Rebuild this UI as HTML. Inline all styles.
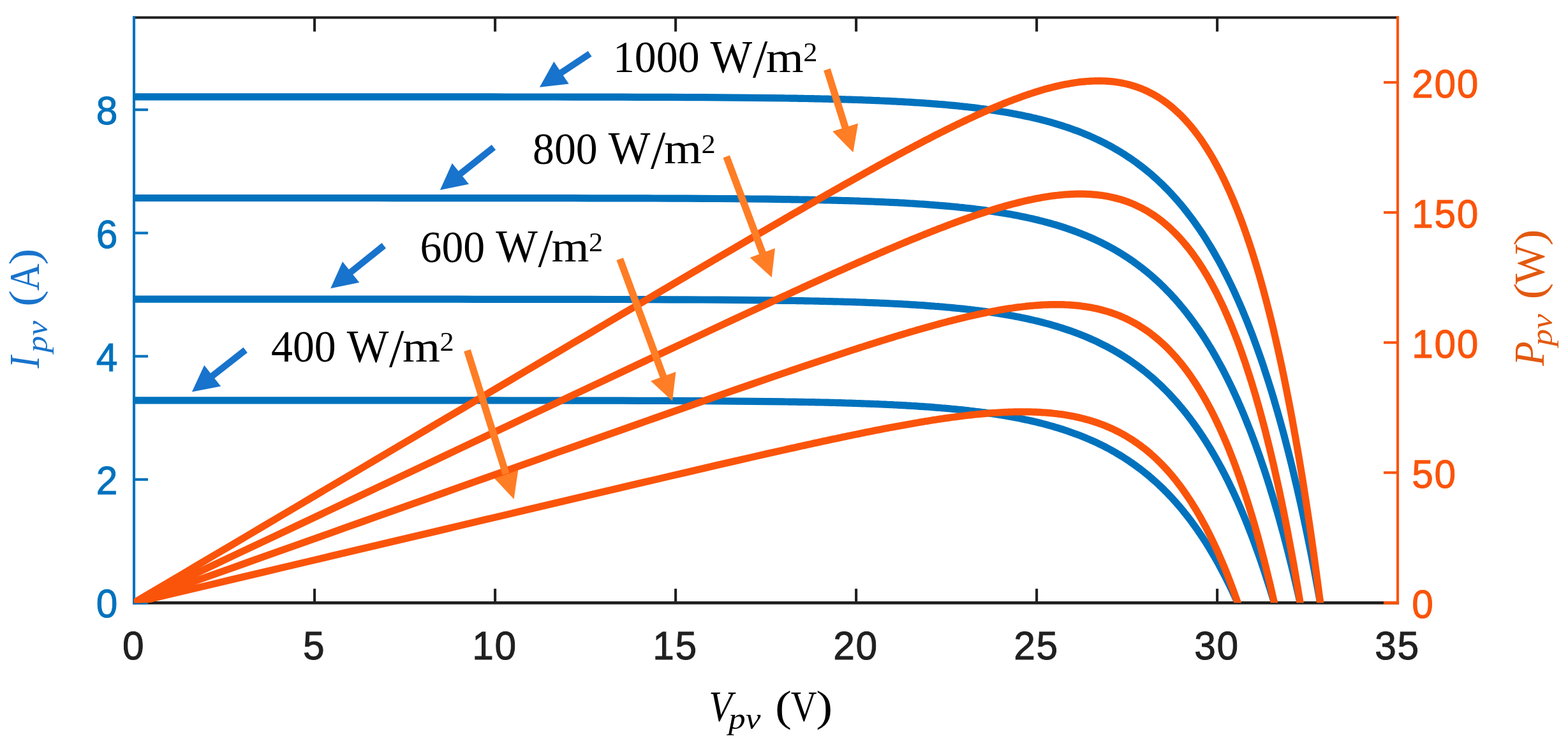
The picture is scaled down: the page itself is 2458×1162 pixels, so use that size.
<!DOCTYPE html>
<html lang="en">
<head>
<meta charset="utf-8">
<title>PV module I-V and P-V characteristics</title>
<style>
html,body{margin:0;padding:0;background:#fff;}
body{width:2458px;height:1162px;overflow:hidden;}
svg{display:block;}
.tk{font-family:"Liberation Sans",sans-serif;font-size:62.0px;}
.lb{font-family:"Liberation Serif",serif;font-size:71px;fill:#000;}
.ax{font-family:"Liberation Serif",serif;font-size:67.7px;}
.it{font-style:italic;}
</style>
</head>
<body>
<svg width="2458" height="1162" viewBox="0 0 2458 1162">
<rect x="0" y="0" width="2458" height="1162" fill="#ffffff"/>
<defs><clipPath id="plot"><rect x="209.90" y="27.50" width="1981.15" height="917.80"/></clipPath></defs>

<g stroke="#202020" stroke-width="4.1" fill="none" stroke-linecap="butt">
<line x1="208.0" y1="945.3" x2="2193.1" y2="945.3" stroke-width="4.7"/>
<line x1="208.0" y1="27.5" x2="2193.1" y2="27.5"/>
<line x1="493.1" y1="945.3" x2="493.1" y2="923.2"/>
<line x1="493.1" y1="27.5" x2="493.1" y2="49.5"/>
<line x1="776.1" y1="945.3" x2="776.1" y2="923.2"/>
<line x1="776.1" y1="27.5" x2="776.1" y2="49.5"/>
<line x1="1059.1" y1="945.3" x2="1059.1" y2="923.2"/>
<line x1="1059.1" y1="27.5" x2="1059.1" y2="49.5"/>
<line x1="1342.1" y1="945.3" x2="1342.1" y2="923.2"/>
<line x1="1342.1" y1="27.5" x2="1342.1" y2="49.5"/>
<line x1="1625.1" y1="945.3" x2="1625.1" y2="923.2"/>
<line x1="1625.1" y1="27.5" x2="1625.1" y2="49.5"/>
<line x1="1908.1" y1="945.3" x2="1908.1" y2="923.2"/>
<line x1="1908.1" y1="27.5" x2="1908.1" y2="49.5"/>
</g>
<g stroke="#0072BD" stroke-width="4.1" fill="none" stroke-linecap="butt">
<line x1="210.05" y1="25.4" x2="210.05" y2="947.3"/>
<line x1="210.05" y1="945.3" x2="232.1" y2="945.3" stroke-width="4.9"/>
<line x1="210.05" y1="751.9" x2="232.1" y2="751.9"/>
<line x1="210.05" y1="558.7" x2="232.1" y2="558.7"/>
<line x1="210.05" y1="365.4" x2="232.1" y2="365.4"/>
<line x1="210.05" y1="172.1" x2="232.1" y2="172.1"/>
</g>
<g stroke="#FA540A" stroke-width="4.1" fill="none" stroke-linecap="butt">
<line x1="2191.05" y1="25.4" x2="2191.05" y2="947.3"/>
<line x1="2191.05" y1="945.3" x2="2169.0" y2="945.3" stroke-width="4.9"/>
<line x1="2191.05" y1="741.2" x2="2169.0" y2="741.2"/>
<line x1="2191.05" y1="537.2" x2="2169.0" y2="537.2"/>
<line x1="2191.05" y1="333.2" x2="2169.0" y2="333.2"/>
<line x1="2191.05" y1="129.2" x2="2169.0" y2="129.2"/>
</g>
<g clip-path="url(#plot)" fill="none" stroke-width="11.2" stroke-linejoin="round" stroke-linecap="butt">
<polyline stroke="#0072BD" points="210.1,627.9 235.5,627.9 261.0,627.9 286.5,627.9 311.9,627.9 337.4,627.9 362.9,627.9 388.3,627.9 413.8,627.9 439.3,627.9 464.8,627.9 490.2,627.9 515.7,627.9 541.2,627.9 566.6,627.9 592.1,627.9 617.6,627.9 643.0,627.9 668.5,627.9 694.0,627.9 719.5,627.9 744.9,627.9 770.4,627.9 795.9,628.0 821.3,628.0 846.8,628.0 872.3,628.0 897.7,628.1 923.2,628.1 948.7,628.1 974.2,628.2 999.6,628.3 1025.1,628.4 1050.6,628.4 1076.0,628.6 1101.5,628.7 1127.0,628.9 1152.4,629.1 1177.9,629.3 1203.4,629.6 1228.9,629.9 1231.6,630.0 1234.4,630.0 1237.2,630.1 1240.0,630.1 1242.7,630.1 1245.5,630.2 1248.3,630.2 1251.1,630.3 1253.9,630.3 1256.6,630.4 1259.4,630.4 1262.2,630.5 1265.0,630.5 1267.8,630.6 1270.5,630.6 1273.3,630.7 1276.1,630.7 1278.9,630.8 1281.7,630.9 1284.4,630.9 1287.2,631.0 1290.0,631.0 1292.8,631.1 1295.6,631.2 1298.3,631.2 1301.1,631.3 1303.9,631.4 1306.7,631.4 1309.4,631.5 1312.2,631.6 1315.0,631.7 1317.8,631.7 1320.6,631.8 1323.3,631.9 1326.1,632.0 1328.9,632.1 1331.7,632.1 1334.5,632.2 1337.2,632.3 1340.0,632.4 1342.8,632.5 1345.6,632.6 1348.4,632.7 1351.1,632.8 1353.9,632.9 1356.7,633.0 1359.5,633.1 1362.3,633.2 1365.0,633.3 1367.8,633.4 1370.6,633.5 1373.4,633.6 1376.1,633.7 1378.9,633.8 1381.7,634.0 1384.5,634.1 1387.3,634.2 1390.0,634.3 1392.8,634.5 1395.6,634.6 1398.4,634.7 1401.2,634.9 1403.9,635.0 1406.7,635.1 1409.5,635.3 1412.3,635.4 1415.1,635.6 1417.8,635.7 1420.6,635.9 1423.4,636.1 1426.2,636.2 1429.0,636.4 1431.7,636.5 1434.5,636.7 1437.3,636.9 1440.1,637.1 1442.8,637.3 1445.6,637.4 1448.4,637.6 1451.2,637.8 1454.0,638.0 1456.7,638.2 1459.5,638.4 1462.3,638.6 1465.1,638.9 1467.9,639.1 1470.6,639.3 1473.4,639.5 1476.2,639.8 1479.0,640.0 1481.8,640.2 1484.5,640.5 1487.3,640.7 1490.1,641.0 1492.9,641.3 1495.7,641.5 1498.4,641.8 1501.2,642.1 1504.0,642.3 1506.8,642.6 1509.5,642.9 1512.3,643.2 1515.1,643.5 1517.9,643.8 1520.7,644.2 1523.4,644.5 1526.2,644.8 1529.0,645.2 1531.8,645.5 1534.6,645.8 1537.3,646.2 1540.1,646.6 1542.9,646.9 1545.7,647.3 1548.5,647.7 1551.2,648.1 1554.0,648.5 1556.8,648.9 1559.6,649.3 1562.4,649.8 1565.1,650.2 1567.9,650.6 1570.7,651.1 1573.5,651.5 1576.2,652.0 1579.0,652.5 1581.8,653.0 1584.6,653.5 1587.4,654.0 1590.1,654.5 1592.9,655.0 1595.7,655.6 1598.5,656.1 1601.3,656.7 1604.0,657.3 1606.8,657.9 1609.6,658.4 1612.4,659.1 1615.2,659.7 1617.9,660.3 1620.7,661.0 1623.5,661.6 1626.3,662.3 1629.1,663.0 1631.8,663.7 1634.6,664.4 1637.4,665.1 1640.2,665.8 1642.9,666.6 1645.7,667.4 1648.5,668.1 1651.3,668.9 1654.1,669.8 1656.8,670.6 1659.6,671.4 1662.4,672.3 1665.2,673.2 1668.0,674.1 1670.7,675.0 1673.5,675.9 1676.3,676.9 1679.1,677.9 1681.9,678.9 1684.6,679.9 1687.4,680.9 1690.2,682.0 1693.0,683.0 1695.8,684.1 1698.5,685.3 1701.3,686.4 1704.1,687.6 1706.9,688.7 1709.6,690.0 1712.4,691.2 1715.2,692.4 1718.0,693.7 1720.8,695.0 1723.5,696.4 1726.3,697.7 1729.1,699.1 1731.9,700.5 1734.7,702.0 1737.4,703.4 1740.2,704.9 1743.0,706.5 1745.8,708.0 1748.6,709.6 1751.3,711.3 1754.1,712.9 1756.9,714.6 1759.7,716.3 1762.5,718.1 1765.2,719.9 1768.0,721.7 1770.8,723.6 1773.6,725.5 1776.3,727.4 1779.1,729.4 1781.9,731.4 1784.7,733.5 1787.5,735.6 1790.2,737.7 1793.0,739.9 1795.8,742.1 1798.6,744.4 1801.4,746.7 1804.1,749.0 1806.9,751.5 1809.7,753.9 1812.5,756.4 1815.3,759.0 1818.0,761.6 1820.8,764.2 1823.6,766.9 1826.4,769.7 1829.2,772.5 1831.9,775.4 1834.7,778.3 1837.5,781.3 1840.3,784.4 1843.1,787.5 1845.8,790.6 1848.6,793.9 1851.4,797.2 1854.2,800.5 1856.9,804.0 1859.7,807.4 1862.5,811.0 1865.3,814.7 1868.1,818.4 1870.8,822.1 1873.6,826.0 1876.4,829.9 1879.2,834.0 1882.0,838.1 1884.7,842.2 1887.5,846.5 1890.3,850.8 1893.1,855.3 1895.9,859.8 1898.6,864.4 1901.4,869.1 1904.2,873.9 1907.0,878.8 1909.8,883.7 1912.5,888.8 1915.3,894.0 1918.1,899.3 1920.9,904.7 1923.6,910.2 1926.4,915.8 1929.2,921.5 1932.0,927.3 1934.8,933.3 1937.5,939.4 1940.3,945.5 1943.1,951.9 1945.9,958.3 1948.7,964.9"/>
<polyline stroke="#0072BD" points="210.1,469.2 235.5,469.2 261.0,469.2 286.5,469.2 311.9,469.2 337.4,469.2 362.9,469.2 388.3,469.2 413.8,469.2 439.3,469.2 464.8,469.2 490.2,469.2 515.7,469.2 541.2,469.2 566.6,469.2 592.1,469.2 617.6,469.2 643.0,469.2 668.5,469.2 694.0,469.2 719.5,469.2 744.9,469.3 770.4,469.3 795.9,469.3 821.3,469.3 846.8,469.3 872.3,469.4 897.7,469.4 923.2,469.4 948.7,469.5 974.2,469.5 999.6,469.6 1025.1,469.7 1050.6,469.8 1076.0,469.9 1101.5,470.0 1127.0,470.2 1152.4,470.4 1177.9,470.6 1203.4,470.9 1228.9,471.3 1231.9,471.3 1234.9,471.3 1237.9,471.4 1240.9,471.4 1243.9,471.5 1246.9,471.5 1249.9,471.6 1252.9,471.6 1255.9,471.7 1258.9,471.7 1261.9,471.8 1264.9,471.9 1267.9,471.9 1270.9,472.0 1273.9,472.0 1276.9,472.1 1279.9,472.2 1282.9,472.2 1285.9,472.3 1288.9,472.4 1291.9,472.4 1294.9,472.5 1297.9,472.6 1300.9,472.6 1303.9,472.7 1306.9,472.8 1309.9,472.9 1312.9,472.9 1315.9,473.0 1318.9,473.1 1321.9,473.2 1324.9,473.3 1327.9,473.4 1330.9,473.4 1333.9,473.5 1336.9,473.6 1339.9,473.7 1342.9,473.8 1345.9,473.9 1348.9,474.0 1351.9,474.1 1354.9,474.2 1357.9,474.3 1360.9,474.5 1363.9,474.6 1366.9,474.7 1369.9,474.8 1372.9,474.9 1375.9,475.0 1378.9,475.2 1381.9,475.3 1384.9,475.4 1387.9,475.6 1390.9,475.7 1393.9,475.8 1396.9,476.0 1399.9,476.1 1402.9,476.3 1405.9,476.4 1408.9,476.6 1411.9,476.7 1414.9,476.9 1417.9,477.1 1420.9,477.2 1423.9,477.4 1426.9,477.6 1429.9,477.8 1432.9,477.9 1435.9,478.1 1438.9,478.3 1441.9,478.5 1444.9,478.7 1447.9,478.9 1450.9,479.1 1453.9,479.4 1456.9,479.6 1459.9,479.8 1462.9,480.0 1465.9,480.3 1468.9,480.5 1471.9,480.7 1474.9,481.0 1477.9,481.2 1480.9,481.5 1483.9,481.8 1486.9,482.0 1489.9,482.3 1492.9,482.6 1495.9,482.9 1498.9,483.2 1501.9,483.5 1504.9,483.8 1507.9,484.1 1510.9,484.4 1513.9,484.7 1516.9,485.1 1519.9,485.4 1522.9,485.8 1525.9,486.1 1528.9,486.5 1531.9,486.8 1534.9,487.2 1537.9,487.6 1540.9,488.0 1543.9,488.4 1546.9,488.8 1549.9,489.2 1552.9,489.7 1555.9,490.1 1558.9,490.6 1561.9,491.0 1564.9,491.5 1567.9,492.0 1570.9,492.4 1573.9,492.9 1576.9,493.5 1579.9,494.0 1582.9,494.5 1585.9,495.1 1588.9,495.6 1591.9,496.2 1594.9,496.8 1597.9,497.3 1600.9,498.0 1603.9,498.6 1606.9,499.2 1609.9,499.8 1612.9,500.5 1615.9,501.2 1618.9,501.9 1621.9,502.6 1624.9,503.3 1627.9,504.0 1630.9,504.8 1633.9,505.5 1636.9,506.3 1639.9,507.1 1642.9,507.9 1645.9,508.7 1648.9,509.6 1651.9,510.5 1654.9,511.3 1657.9,512.2 1660.9,513.2 1663.9,514.1 1666.9,515.1 1669.9,516.1 1672.9,517.1 1675.9,518.1 1678.9,519.1 1681.9,520.2 1684.9,521.3 1687.9,522.4 1690.9,523.6 1693.9,524.7 1696.9,525.9 1699.9,527.1 1702.9,528.4 1705.9,529.7 1708.9,531.0 1711.9,532.3 1714.9,533.6 1717.9,535.0 1720.9,536.4 1723.9,537.9 1726.9,539.4 1729.9,540.9 1732.9,542.4 1735.9,544.0 1738.9,545.6 1741.9,547.2 1744.9,548.9 1747.9,550.6 1750.9,552.3 1753.9,554.1 1756.9,555.9 1759.9,557.8 1762.9,559.7 1765.9,561.7 1768.9,563.6 1771.9,565.7 1774.9,567.7 1777.9,569.9 1780.9,572.0 1783.9,574.2 1786.9,576.5 1789.9,578.8 1792.9,581.1 1795.9,583.5 1798.9,586.0 1801.9,588.5 1804.9,591.0 1807.9,593.7 1810.9,596.3 1813.9,599.1 1816.9,601.9 1819.9,604.7 1822.9,607.6 1825.9,610.6 1828.9,613.6 1831.9,616.7 1834.9,619.9 1837.9,623.1 1840.9,626.4 1843.9,629.8 1846.9,633.2 1849.9,636.8 1852.9,640.4 1855.9,644.0 1858.9,647.8 1861.9,651.6 1864.9,655.5 1867.9,659.5 1870.9,663.6 1873.9,667.8 1876.9,672.0 1879.9,676.4 1882.9,680.8 1885.9,685.4 1888.9,690.0 1891.9,694.8 1894.9,699.6 1897.9,704.5 1900.9,709.6 1903.9,714.8 1906.9,720.0 1909.9,725.4 1912.9,730.9 1915.9,736.5 1918.9,742.3 1921.9,748.1 1924.9,754.1 1927.9,760.2 1930.9,766.5 1933.9,772.9 1936.9,779.4 1939.9,786.0 1942.9,792.8 1945.9,799.8 1948.9,806.9 1951.9,814.1 1954.9,821.5 1957.9,829.1 1960.9,836.8 1963.9,844.7 1966.9,852.7 1969.9,861.0 1972.9,869.4 1975.9,878.0 1978.9,886.7 1981.9,895.7 1984.9,904.9 1987.9,914.2 1991.0,923.8 1994.0,933.5 1997.0,943.5 2000.0,953.7 2003.0,964.1 2006.0,974.7"/>
<polyline stroke="#0072BD" points="210.1,310.5 235.5,310.5 261.0,310.5 286.5,310.5 311.9,310.5 337.4,310.5 362.9,310.5 388.3,310.5 413.8,310.5 439.3,310.5 464.8,310.5 490.2,310.5 515.7,310.5 541.2,310.5 566.6,310.5 592.1,310.5 617.6,310.6 643.0,310.6 668.5,310.6 694.0,310.6 719.5,310.6 744.9,310.6 770.4,310.6 795.9,310.6 821.3,310.6 846.8,310.7 872.3,310.7 897.7,310.7 923.2,310.8 948.7,310.8 974.2,310.9 999.6,310.9 1025.1,311.0 1050.6,311.1 1076.0,311.2 1101.5,311.4 1127.0,311.5 1152.4,311.7 1177.9,312.0 1203.4,312.2 1228.9,312.6 1232.0,312.6 1235.2,312.7 1238.3,312.7 1241.5,312.8 1244.6,312.8 1247.8,312.9 1251.0,312.9 1254.1,313.0 1257.3,313.1 1260.4,313.1 1263.6,313.2 1266.7,313.2 1269.9,313.3 1273.1,313.3 1276.2,313.4 1279.4,313.5 1282.5,313.5 1285.7,313.6 1288.8,313.7 1292.0,313.8 1295.2,313.8 1298.3,313.9 1301.5,314.0 1304.6,314.1 1307.8,314.1 1310.9,314.2 1314.1,314.3 1317.3,314.4 1320.4,314.5 1323.6,314.6 1326.7,314.7 1329.9,314.7 1333.0,314.8 1336.2,314.9 1339.4,315.0 1342.5,315.1 1345.7,315.2 1348.8,315.4 1352.0,315.5 1355.1,315.6 1358.3,315.7 1361.5,315.8 1364.6,315.9 1367.8,316.0 1370.9,316.2 1374.1,316.3 1377.2,316.4 1380.4,316.6 1383.6,316.7 1386.7,316.8 1389.9,317.0 1393.0,317.1 1396.2,317.3 1399.3,317.4 1402.5,317.6 1405.7,317.7 1408.8,317.9 1412.0,318.1 1415.1,318.2 1418.3,318.4 1421.4,318.6 1424.6,318.8 1427.8,319.0 1430.9,319.2 1434.1,319.4 1437.2,319.6 1440.4,319.8 1443.5,320.0 1446.7,320.2 1449.9,320.4 1453.0,320.6 1456.2,320.9 1459.3,321.1 1462.5,321.3 1465.7,321.6 1468.8,321.8 1472.0,322.1 1475.1,322.3 1478.3,322.6 1481.4,322.9 1484.6,323.2 1487.8,323.4 1490.9,323.7 1494.1,324.0 1497.2,324.3 1500.4,324.6 1503.5,325.0 1506.7,325.3 1509.9,325.6 1513.0,326.0 1516.2,326.3 1519.3,326.7 1522.5,327.0 1525.6,327.4 1528.8,327.8 1532.0,328.2 1535.1,328.6 1538.3,329.0 1541.4,329.4 1544.6,329.8 1547.7,330.3 1550.9,330.7 1554.1,331.2 1557.2,331.6 1560.4,332.1 1563.5,332.6 1566.7,333.1 1569.8,333.6 1573.0,334.1 1576.2,334.7 1579.3,335.2 1582.5,335.8 1585.6,336.3 1588.8,336.9 1591.9,337.5 1595.1,338.1 1598.3,338.8 1601.4,339.4 1604.6,340.0 1607.7,340.7 1610.9,341.4 1614.0,342.1 1617.2,342.8 1620.4,343.5 1623.5,344.3 1626.7,345.0 1629.8,345.8 1633.0,346.6 1636.1,347.4 1639.3,348.3 1642.5,349.1 1645.6,350.0 1648.8,350.9 1651.9,351.8 1655.1,352.7 1658.2,353.7 1661.4,354.7 1664.6,355.7 1667.7,356.7 1670.9,357.7 1674.0,358.8 1677.2,359.9 1680.4,361.0 1683.5,362.1 1686.7,363.3 1689.8,364.5 1693.0,365.7 1696.1,367.0 1699.3,368.2 1702.5,369.5 1705.6,370.9 1708.8,372.2 1711.9,373.6 1715.1,375.0 1718.2,376.5 1721.4,378.0 1724.6,379.5 1727.7,381.1 1730.9,382.7 1734.0,384.3 1737.2,386.0 1740.3,387.7 1743.5,389.4 1746.7,391.2 1749.8,393.0 1753.0,394.9 1756.1,396.8 1759.3,398.7 1762.4,400.7 1765.6,402.8 1768.8,404.9 1771.9,407.0 1775.1,409.2 1778.2,411.4 1781.4,413.7 1784.5,416.0 1787.7,418.4 1790.9,420.8 1794.0,423.3 1797.2,425.9 1800.3,428.5 1803.5,431.1 1806.6,433.9 1809.8,436.7 1813.0,439.5 1816.1,442.4 1819.3,445.4 1822.4,448.5 1825.6,451.6 1828.7,454.8 1831.9,458.0 1835.1,461.3 1838.2,464.8 1841.4,468.2 1844.5,471.8 1847.7,475.4 1850.8,479.2 1854.0,483.0 1857.2,486.9 1860.3,490.9 1863.5,494.9 1866.6,499.1 1869.8,503.4 1872.9,507.7 1876.1,512.2 1879.3,516.7 1882.4,521.4 1885.6,526.2 1888.7,531.0 1891.9,536.0 1895.0,541.1 1898.2,546.3 1901.4,551.7 1904.5,557.1 1907.7,562.7 1910.8,568.4 1914.0,574.2 1917.2,580.2 1920.3,586.3 1923.5,592.5 1926.6,598.9 1929.8,605.4 1932.9,612.0 1936.1,618.8 1939.3,625.8 1942.4,632.9 1945.6,640.2 1948.7,647.7 1951.9,655.3 1955.0,663.1 1958.2,671.0 1961.4,679.2 1964.5,687.5 1967.7,696.0 1970.8,704.8 1974.0,713.7 1977.1,722.8 1980.3,732.1 1983.5,741.6 1986.6,751.3 1989.8,761.3 1992.9,771.5 1996.1,781.9 1999.2,792.6 2002.4,803.5 2005.6,814.6 2008.7,826.0 2011.9,837.6 2015.0,849.5 2018.2,861.7 2021.3,874.2 2024.5,886.9 2027.7,899.9 2030.8,913.3 2034.0,926.9 2037.1,940.8 2040.3,955.0 2043.4,969.6 2046.6,984.5"/>
<polyline stroke="#0072BD" points="210.1,151.9 235.5,151.9 261.0,151.9 286.5,151.9 311.9,151.9 337.4,151.9 362.9,151.9 388.3,151.9 413.8,151.9 439.3,151.9 464.8,151.9 490.2,151.9 515.7,151.9 541.2,151.9 566.6,151.9 592.1,151.9 617.6,151.9 643.0,151.9 668.5,151.9 694.0,151.9 719.5,151.9 744.9,151.9 770.4,151.9 795.9,152.0 821.3,152.0 846.8,152.0 872.3,152.0 897.7,152.1 923.2,152.1 948.7,152.1 974.2,152.2 999.6,152.3 1025.1,152.3 1050.6,152.4 1076.0,152.6 1101.5,152.7 1127.0,152.9 1152.4,153.1 1177.9,153.3 1203.4,153.6 1228.9,153.9 1232.1,154.0 1235.4,154.0 1238.7,154.1 1242.0,154.1 1245.2,154.2 1248.5,154.2 1251.8,154.3 1255.1,154.3 1258.4,154.4 1261.6,154.5 1264.9,154.5 1268.2,154.6 1271.5,154.6 1274.8,154.7 1278.0,154.8 1281.3,154.9 1284.6,154.9 1287.9,155.0 1291.2,155.1 1294.4,155.1 1297.7,155.2 1301.0,155.3 1304.3,155.4 1307.5,155.5 1310.8,155.5 1314.1,155.6 1317.4,155.7 1320.7,155.8 1323.9,155.9 1327.2,156.0 1330.5,156.1 1333.8,156.2 1337.1,156.3 1340.3,156.4 1343.6,156.5 1346.9,156.6 1350.2,156.7 1353.5,156.8 1356.7,157.0 1360.0,157.1 1363.3,157.2 1366.6,157.3 1369.9,157.5 1373.1,157.6 1376.4,157.7 1379.7,157.9 1383.0,158.0 1386.2,158.2 1389.5,158.3 1392.8,158.4 1396.1,158.6 1399.4,158.8 1402.6,158.9 1405.9,159.1 1409.2,159.3 1412.5,159.4 1415.8,159.6 1419.0,159.8 1422.3,160.0 1425.6,160.2 1428.9,160.4 1432.2,160.6 1435.4,160.8 1438.7,161.0 1442.0,161.2 1445.3,161.4 1448.5,161.6 1451.8,161.9 1455.1,162.1 1458.4,162.3 1461.7,162.6 1464.9,162.8 1468.2,163.1 1471.5,163.4 1474.8,163.6 1478.1,163.9 1481.3,164.2 1484.6,164.5 1487.9,164.8 1491.2,165.1 1494.5,165.4 1497.7,165.7 1501.0,166.0 1504.3,166.4 1507.6,166.7 1510.9,167.1 1514.1,167.4 1517.4,167.8 1520.7,168.2 1524.0,168.5 1527.2,168.9 1530.5,169.3 1533.8,169.7 1537.1,170.2 1540.4,170.6 1543.6,171.0 1546.9,171.5 1550.2,171.9 1553.5,172.4 1556.8,172.9 1560.0,173.4 1563.3,173.9 1566.6,174.4 1569.9,174.9 1573.2,175.5 1576.4,176.0 1579.7,176.6 1583.0,177.2 1586.3,177.8 1589.5,178.4 1592.8,179.0 1596.1,179.7 1599.4,180.3 1602.7,181.0 1605.9,181.7 1609.2,182.4 1612.5,183.1 1615.8,183.8 1619.1,184.6 1622.3,185.3 1625.6,186.1 1628.9,186.9 1632.2,187.7 1635.5,188.6 1638.7,189.4 1642.0,190.3 1645.3,191.2 1648.6,192.2 1651.9,193.1 1655.1,194.1 1658.4,195.1 1661.7,196.1 1665.0,197.1 1668.2,198.2 1671.5,199.3 1674.8,200.4 1678.1,201.5 1681.4,202.7 1684.6,203.9 1687.9,205.1 1691.2,206.3 1694.5,207.6 1697.8,208.9 1701.0,210.3 1704.3,211.6 1707.6,213.0 1710.9,214.5 1714.2,216.0 1717.4,217.5 1720.7,219.0 1724.0,220.6 1727.3,222.2 1730.5,223.8 1733.8,225.5 1737.1,227.3 1740.4,229.0 1743.7,230.8 1746.9,232.7 1750.2,234.6 1753.5,236.5 1756.8,238.5 1760.1,240.6 1763.3,242.6 1766.6,244.8 1769.9,247.0 1773.2,249.2 1776.5,251.5 1779.7,253.8 1783.0,256.2 1786.3,258.7 1789.6,261.2 1792.9,263.7 1796.1,266.4 1799.4,269.0 1802.7,271.8 1806.0,274.6 1809.2,277.5 1812.5,280.4 1815.8,283.5 1819.1,286.6 1822.4,289.7 1825.6,293.0 1828.9,296.3 1832.2,299.7 1835.5,303.1 1838.8,306.7 1842.0,310.3 1845.3,314.0 1848.6,317.8 1851.9,321.7 1855.2,325.7 1858.4,329.8 1861.7,334.0 1865.0,338.3 1868.3,342.6 1871.6,347.1 1874.8,351.7 1878.1,356.4 1881.4,361.2 1884.7,366.1 1887.9,371.1 1891.2,376.3 1894.5,381.6 1897.8,387.0 1901.1,392.5 1904.3,398.1 1907.6,403.9 1910.9,409.8 1914.2,415.9 1917.5,422.1 1920.7,428.4 1924.0,434.9 1927.3,441.6 1930.6,448.4 1933.9,455.3 1937.1,462.4 1940.4,469.7 1943.7,477.2 1947.0,484.8 1950.2,492.7 1953.5,500.7 1956.8,508.8 1960.1,517.2 1963.4,525.8 1966.6,534.6 1969.9,543.6 1973.2,552.8 1976.5,562.2 1979.8,571.8 1983.0,581.7 1986.3,591.8 1989.6,602.1 1992.9,612.7 1996.2,623.5 1999.4,634.6 2002.7,645.9 2006.0,657.5 2009.3,669.4 2012.6,681.5 2015.8,693.9 2019.1,706.7 2022.4,719.7 2025.7,733.0 2028.9,746.7 2032.2,760.6 2035.5,774.9 2038.8,789.6 2042.1,804.5 2045.3,819.8 2048.6,835.5 2051.9,851.6 2055.2,868.0 2058.5,884.8 2061.7,902.0 2065.0,919.6 2068.3,937.7 2071.6,956.1 2074.9,975.0 2078.1,994.3"/>
</g>
<g fill="#FF7D25" stroke="none">
<polygon points="1345.1,193.5 1337.4,238.9 1305.1,206.1"/>
<polygon points="1215.0,389.2 1209.7,435.0 1175.6,404.0"/>
<polygon points="1059.5,583.0 1054.0,628.7 1020.1,597.5"/>
<polygon points="812.6,734.9 805.6,782.7 772.5,747.5"/>
</g>
<g clip-path="url(#plot)" fill="none" stroke-width="11.2" stroke-linejoin="round" stroke-linecap="butt">
<polyline stroke="#FA540A" points="210.1,945.2 235.5,939.2 261.0,933.1 286.5,927.1 311.9,921.1 337.4,915.1 362.9,909.0 388.3,903.0 413.8,897.0 439.3,890.9 464.8,884.9 490.2,878.9 515.7,872.8 541.2,866.8 566.6,860.8 592.1,854.8 617.6,848.7 643.0,842.7 668.5,836.7 694.0,830.7 719.5,824.6 744.9,818.6 770.4,812.6 795.9,806.6 821.3,800.5 846.8,794.5 872.3,788.5 897.7,782.5 923.2,776.5 948.7,770.5 974.2,764.5 999.6,758.5 1025.1,752.6 1050.6,746.6 1076.0,740.7 1101.5,734.7 1127.0,728.8 1152.4,723.0 1177.9,717.1 1203.4,711.3 1228.9,705.6 1231.6,705.0 1234.4,704.3 1237.2,703.7 1240.0,703.1 1242.7,702.5 1245.5,701.9 1248.3,701.3 1251.1,700.6 1253.9,700.0 1256.6,699.4 1259.4,698.8 1262.2,698.2 1265.0,697.6 1267.8,697.0 1270.5,696.4 1273.3,695.7 1276.1,695.1 1278.9,694.5 1281.7,693.9 1284.4,693.3 1287.2,692.7 1290.0,692.1 1292.8,691.5 1295.6,690.9 1298.3,690.3 1301.1,689.7 1303.9,689.1 1306.7,688.5 1309.4,687.9 1312.2,687.4 1315.0,686.8 1317.8,686.2 1320.6,685.6 1323.3,685.0 1326.1,684.4 1328.9,683.8 1331.7,683.3 1334.5,682.7 1337.2,682.1 1340.0,681.5 1342.8,681.0 1345.6,680.4 1348.4,679.8 1351.1,679.3 1353.9,678.7 1356.7,678.1 1359.5,677.6 1362.3,677.0 1365.0,676.5 1367.8,675.9 1370.6,675.3 1373.4,674.8 1376.1,674.3 1378.9,673.7 1381.7,673.2 1384.5,672.6 1387.3,672.1 1390.0,671.6 1392.8,671.0 1395.6,670.5 1398.4,670.0 1401.2,669.4 1403.9,668.9 1406.7,668.4 1409.5,667.9 1412.3,667.4 1415.1,666.9 1417.8,666.4 1420.6,665.9 1423.4,665.4 1426.2,664.9 1429.0,664.4 1431.7,663.9 1434.5,663.4 1437.3,663.0 1440.1,662.5 1442.8,662.0 1445.6,661.5 1448.4,661.1 1451.2,660.6 1454.0,660.2 1456.7,659.7 1459.5,659.3 1462.3,658.8 1465.1,658.4 1467.9,658.0 1470.6,657.5 1473.4,657.1 1476.2,656.7 1479.0,656.3 1481.8,655.9 1484.5,655.5 1487.3,655.1 1490.1,654.7 1492.9,654.3 1495.7,654.0 1498.4,653.6 1501.2,653.2 1504.0,652.9 1506.8,652.5 1509.5,652.2 1512.3,651.8 1515.1,651.5 1517.9,651.2 1520.7,650.9 1523.4,650.6 1526.2,650.3 1529.0,650.0 1531.8,649.7 1534.6,649.4 1537.3,649.2 1540.1,648.9 1542.9,648.6 1545.7,648.4 1548.5,648.2 1551.2,648.0 1554.0,647.7 1556.8,647.5 1559.6,647.3 1562.4,647.2 1565.1,647.0 1567.9,646.8 1570.7,646.7 1573.5,646.5 1576.2,646.4 1579.0,646.3 1581.8,646.2 1584.6,646.1 1587.4,646.0 1590.1,645.9 1592.9,645.9 1595.7,645.8 1598.5,645.8 1601.3,645.8 1604.0,645.8 1606.8,645.8 1609.6,645.8 1612.4,645.9 1615.2,645.9 1617.9,646.0 1620.7,646.1 1623.5,646.2 1626.3,646.3 1629.1,646.4 1631.8,646.6 1634.6,646.8 1637.4,647.0 1640.2,647.2 1642.9,647.4 1645.7,647.6 1648.5,647.9 1651.3,648.2 1654.1,648.5 1656.8,648.8 1659.6,649.2 1662.4,649.5 1665.2,649.9 1668.0,650.3 1670.7,650.8 1673.5,651.2 1676.3,651.7 1679.1,652.2 1681.9,652.8 1684.6,653.3 1687.4,653.9 1690.2,654.5 1693.0,655.2 1695.8,655.9 1698.5,656.6 1701.3,657.3 1704.1,658.1 1706.9,658.8 1709.6,659.7 1712.4,660.5 1715.2,661.4 1718.0,662.3 1720.8,663.3 1723.5,664.3 1726.3,665.3 1729.1,666.3 1731.9,667.4 1734.7,668.6 1737.4,669.7 1740.2,671.0 1743.0,672.2 1745.8,673.5 1748.6,674.8 1751.3,676.2 1754.1,677.6 1756.9,679.1 1759.7,680.6 1762.5,682.2 1765.2,683.8 1768.0,685.5 1770.8,687.2 1773.6,688.9 1776.3,690.7 1779.1,692.6 1781.9,694.5 1784.7,696.5 1787.5,698.5 1790.2,700.6 1793.0,702.7 1795.8,704.9 1798.6,707.2 1801.4,709.5 1804.1,711.9 1806.9,714.4 1809.7,716.9 1812.5,719.5 1815.3,722.2 1818.0,724.9 1820.8,727.7 1823.6,730.6 1826.4,733.6 1829.2,736.6 1831.9,739.7 1834.7,742.9 1837.5,746.2 1840.3,749.6 1843.1,753.0 1845.8,756.6 1848.6,760.2 1851.4,763.9 1854.2,767.8 1856.9,771.7 1859.7,775.7 1862.5,779.8 1865.3,784.0 1868.1,788.3 1870.8,792.8 1873.6,797.3 1876.4,801.9 1879.2,806.7 1882.0,811.6 1884.7,816.6 1887.5,821.7 1890.3,826.9 1893.1,832.3 1895.9,837.8 1898.6,843.4 1901.4,849.2 1904.2,855.1 1907.0,861.1 1909.8,867.3 1912.5,873.6 1915.3,880.1 1918.1,886.7 1920.9,893.5 1923.6,900.4 1926.4,907.5 1929.2,914.8 1932.0,922.3 1934.8,929.9 1937.5,937.7 1940.3,945.6 1943.1,953.8 1945.9,962.1 1948.7,970.7"/>
<polyline stroke="#FA540A" points="210.1,945.2 235.5,936.2 261.0,927.1 286.5,918.1 311.9,909.0 337.4,900.0 362.9,890.9 388.3,881.9 413.8,872.8 439.3,863.8 464.8,854.8 490.2,845.7 515.7,836.7 541.2,827.6 566.6,818.6 592.1,809.5 617.6,800.5 643.0,791.5 668.5,782.4 694.0,773.4 719.5,764.3 744.9,755.3 770.4,746.3 795.9,737.2 821.3,728.2 846.8,719.2 872.3,710.1 897.7,701.1 923.2,692.1 948.7,683.1 974.2,674.1 999.6,665.1 1025.1,656.1 1050.6,647.1 1076.0,638.2 1101.5,629.2 1127.0,620.3 1152.4,611.4 1177.9,602.6 1203.4,593.8 1228.9,585.0 1231.9,584.0 1234.9,583.0 1237.9,581.9 1240.9,580.9 1243.9,579.9 1246.9,578.9 1249.9,577.8 1252.9,576.8 1255.9,575.8 1258.9,574.8 1261.9,573.8 1264.9,572.7 1267.9,571.7 1270.9,570.7 1273.9,569.7 1276.9,568.7 1279.9,567.7 1282.9,566.7 1285.9,565.7 1288.9,564.7 1291.9,563.7 1294.9,562.7 1297.9,561.7 1300.9,560.7 1303.9,559.7 1306.9,558.7 1309.9,557.7 1312.9,556.7 1315.9,555.7 1318.9,554.7 1321.9,553.7 1324.9,552.7 1327.9,551.7 1330.9,550.8 1333.9,549.8 1336.9,548.8 1339.9,547.8 1342.9,546.9 1345.9,545.9 1348.9,544.9 1351.9,544.0 1354.9,543.0 1357.9,542.0 1360.9,541.1 1363.9,540.1 1366.9,539.2 1369.9,538.2 1372.9,537.3 1375.9,536.3 1378.9,535.4 1381.9,534.4 1384.9,533.5 1387.9,532.6 1390.9,531.6 1393.9,530.7 1396.9,529.8 1399.9,528.9 1402.9,527.9 1405.9,527.0 1408.9,526.1 1411.9,525.2 1414.9,524.3 1417.9,523.4 1420.9,522.5 1423.9,521.6 1426.9,520.7 1429.9,519.9 1432.9,519.0 1435.9,518.1 1438.9,517.2 1441.9,516.4 1444.9,515.5 1447.9,514.7 1450.9,513.8 1453.9,513.0 1456.9,512.1 1459.9,511.3 1462.9,510.5 1465.9,509.6 1468.9,508.8 1471.9,508.0 1474.9,507.2 1477.9,506.4 1480.9,505.6 1483.9,504.8 1486.9,504.0 1489.9,503.3 1492.9,502.5 1495.9,501.7 1498.9,501.0 1501.9,500.2 1504.9,499.5 1507.9,498.8 1510.9,498.0 1513.9,497.3 1516.9,496.6 1519.9,495.9 1522.9,495.2 1525.9,494.6 1528.9,493.9 1531.9,493.2 1534.9,492.6 1537.9,491.9 1540.9,491.3 1543.9,490.7 1546.9,490.1 1549.9,489.5 1552.9,488.9 1555.9,488.3 1558.9,487.7 1561.9,487.2 1564.9,486.6 1567.9,486.1 1570.9,485.6 1573.9,485.1 1576.9,484.6 1579.9,484.1 1582.9,483.6 1585.9,483.2 1588.9,482.8 1591.9,482.3 1594.9,481.9 1597.9,481.5 1600.9,481.2 1603.9,480.8 1606.9,480.5 1609.9,480.1 1612.9,479.8 1615.9,479.5 1618.9,479.3 1621.9,479.0 1624.9,478.8 1627.9,478.6 1630.9,478.4 1633.9,478.2 1636.9,478.0 1639.9,477.9 1642.9,477.8 1645.9,477.7 1648.9,477.6 1651.9,477.6 1654.9,477.6 1657.9,477.6 1660.9,477.6 1663.9,477.7 1666.9,477.7 1669.9,477.9 1672.9,478.0 1675.9,478.2 1678.9,478.4 1681.9,478.6 1684.9,478.8 1687.9,479.1 1690.9,479.4 1693.9,479.8 1696.9,480.2 1699.9,480.6 1702.9,481.0 1705.9,481.5 1708.9,482.0 1711.9,482.6 1714.9,483.2 1717.9,483.8 1720.9,484.5 1723.9,485.2 1726.9,486.0 1729.9,486.8 1732.9,487.6 1735.9,488.5 1738.9,489.4 1741.9,490.4 1744.9,491.4 1747.9,492.5 1750.9,493.6 1753.9,494.8 1756.9,496.0 1759.9,497.3 1762.9,498.7 1765.9,500.0 1768.9,501.5 1771.9,503.0 1774.9,504.6 1777.9,506.2 1780.9,507.9 1783.9,509.6 1786.9,511.5 1789.9,513.4 1792.9,515.3 1795.9,517.3 1798.9,519.4 1801.9,521.6 1804.9,523.9 1807.9,526.2 1810.9,528.6 1813.9,531.1 1816.9,533.6 1819.9,536.3 1822.9,539.0 1825.9,541.8 1828.9,544.8 1831.9,547.8 1834.9,550.9 1837.9,554.1 1840.9,557.4 1843.9,560.8 1846.9,564.3 1849.9,567.9 1852.9,571.6 1855.9,575.4 1858.9,579.4 1861.9,583.4 1864.9,587.6 1867.9,591.9 1870.9,596.3 1873.9,600.9 1876.9,605.5 1879.9,610.4 1882.9,615.3 1885.9,620.4 1888.9,625.6 1891.9,631.0 1894.9,636.5 1897.9,642.2 1900.9,648.0 1903.9,654.0 1906.9,660.2 1909.9,666.5 1912.9,673.0 1915.9,679.7 1918.9,686.5 1921.9,693.5 1924.9,700.7 1927.9,708.2 1930.9,715.8 1933.9,723.6 1936.9,731.6 1939.9,739.8 1942.9,748.2 1945.9,756.9 1948.9,765.8 1951.9,774.9 1954.9,784.2 1957.9,793.8 1960.9,803.6 1963.9,813.7 1966.9,824.0 1969.9,834.6 1972.9,845.5 1975.9,856.6 1978.9,868.1 1981.9,879.8 1984.9,891.8 1987.9,904.1 1991.0,916.7 1994.0,929.7 1997.0,942.9 2000.0,956.5 2003.0,970.4 2006.0,984.7"/>
<polyline stroke="#FA540A" points="210.1,945.2 235.5,933.1 261.0,921.1 286.5,909.0 311.9,897.0 337.4,884.9 362.9,872.8 388.3,860.8 413.8,848.7 439.3,836.7 464.8,824.6 490.2,812.6 515.7,800.5 541.2,788.4 566.6,776.4 592.1,764.3 617.6,752.3 643.0,740.2 668.5,728.2 694.0,716.1 719.5,704.0 744.9,692.0 770.4,679.9 795.9,667.9 821.3,655.8 846.8,643.8 872.3,631.8 897.7,619.7 923.2,607.7 948.7,595.7 974.2,583.6 999.6,571.6 1025.1,559.6 1050.6,547.6 1076.0,535.7 1101.5,523.7 1127.0,511.8 1152.4,499.9 1177.9,488.0 1203.4,476.2 1228.9,464.4 1232.0,463.0 1235.2,461.5 1238.3,460.1 1241.5,458.6 1244.6,457.2 1247.8,455.7 1251.0,454.3 1254.1,452.8 1257.3,451.4 1260.4,449.9 1263.6,448.5 1266.7,447.0 1269.9,445.6 1273.1,444.2 1276.2,442.7 1279.4,441.3 1282.5,439.9 1285.7,438.4 1288.8,437.0 1292.0,435.6 1295.2,434.1 1298.3,432.7 1301.5,431.3 1304.6,429.9 1307.8,428.4 1310.9,427.0 1314.1,425.6 1317.3,424.2 1320.4,422.8 1323.6,421.4 1326.7,419.9 1329.9,418.5 1333.0,417.1 1336.2,415.7 1339.4,414.3 1342.5,412.9 1345.7,411.5 1348.8,410.1 1352.0,408.8 1355.1,407.4 1358.3,406.0 1361.5,404.6 1364.6,403.2 1367.8,401.8 1370.9,400.5 1374.1,399.1 1377.2,397.7 1380.4,396.4 1383.6,395.0 1386.7,393.6 1389.9,392.3 1393.0,390.9 1396.2,389.6 1399.3,388.3 1402.5,386.9 1405.7,385.6 1408.8,384.2 1412.0,382.9 1415.1,381.6 1418.3,380.3 1421.4,379.0 1424.6,377.6 1427.8,376.3 1430.9,375.0 1434.1,373.7 1437.2,372.5 1440.4,371.2 1443.5,369.9 1446.7,368.6 1449.9,367.3 1453.0,366.1 1456.2,364.8 1459.3,363.6 1462.5,362.3 1465.7,361.1 1468.8,359.8 1472.0,358.6 1475.1,357.4 1478.3,356.2 1481.4,355.0 1484.6,353.8 1487.8,352.6 1490.9,351.4 1494.1,350.2 1497.2,349.0 1500.4,347.9 1503.5,346.7 1506.7,345.6 1509.9,344.4 1513.0,343.3 1516.2,342.2 1519.3,341.1 1522.5,340.0 1525.6,338.9 1528.8,337.8 1532.0,336.7 1535.1,335.7 1538.3,334.6 1541.4,333.6 1544.6,332.6 1547.7,331.6 1550.9,330.6 1554.1,329.6 1557.2,328.6 1560.4,327.6 1563.5,326.7 1566.7,325.7 1569.8,324.8 1573.0,323.9 1576.2,323.0 1579.3,322.1 1582.5,321.3 1585.6,320.4 1588.8,319.6 1591.9,318.8 1595.1,318.0 1598.3,317.2 1601.4,316.4 1604.6,315.7 1607.7,314.9 1610.9,314.2 1614.0,313.5 1617.2,312.9 1620.4,312.2 1623.5,311.6 1626.7,311.0 1629.8,310.4 1633.0,309.8 1636.1,309.3 1639.3,308.8 1642.5,308.3 1645.6,307.8 1648.8,307.3 1651.9,306.9 1655.1,306.5 1658.2,306.2 1661.4,305.8 1664.6,305.5 1667.7,305.2 1670.9,305.0 1674.0,304.8 1677.2,304.6 1680.4,304.4 1683.5,304.3 1686.7,304.2 1689.8,304.2 1693.0,304.1 1696.1,304.2 1699.3,304.2 1702.5,304.3 1705.6,304.4 1708.8,304.6 1711.9,304.8 1715.1,305.1 1718.2,305.4 1721.4,305.7 1724.6,306.1 1727.7,306.5 1730.9,307.0 1734.0,307.5 1737.2,308.1 1740.3,308.8 1743.5,309.4 1746.7,310.2 1749.8,311.0 1753.0,311.8 1756.1,312.7 1759.3,313.7 1762.4,314.7 1765.6,315.8 1768.8,316.9 1771.9,318.1 1775.1,319.4 1778.2,320.7 1781.4,322.2 1784.5,323.7 1787.7,325.2 1790.9,326.8 1794.0,328.6 1797.2,330.3 1800.3,332.2 1803.5,334.2 1806.6,336.2 1809.8,338.3 1813.0,340.5 1816.1,342.8 1819.3,345.2 1822.4,347.7 1825.6,350.3 1828.7,353.0 1831.9,355.8 1835.1,358.7 1838.2,361.7 1841.4,364.8 1844.5,368.0 1847.7,371.3 1850.8,374.8 1854.0,378.4 1857.2,382.1 1860.3,385.9 1863.5,389.8 1866.6,393.9 1869.8,398.2 1872.9,402.5 1876.1,407.0 1879.3,411.7 1882.4,416.5 1885.6,421.4 1888.7,426.6 1891.9,431.8 1895.0,437.3 1898.2,442.9 1901.4,448.7 1904.5,454.6 1907.7,460.8 1910.8,467.1 1914.0,473.6 1917.2,480.3 1920.3,487.2 1923.5,494.4 1926.6,501.7 1929.8,509.2 1932.9,517.0 1936.1,525.0 1939.3,533.2 1942.4,541.7 1945.6,550.4 1948.7,559.3 1951.9,568.5 1955.0,578.0 1958.2,587.7 1961.4,597.7 1964.5,608.0 1967.7,618.5 1970.8,629.4 1974.0,640.5 1977.1,652.0 1980.3,663.8 1983.5,675.9 1986.6,688.3 1989.8,701.1 1992.9,714.2 1996.1,727.6 1999.2,741.5 2002.4,755.7 2005.6,770.3 2008.7,785.2 2011.9,800.6 2015.0,816.4 2018.2,832.6 2021.3,849.2 2024.5,866.3 2027.7,883.8 2030.8,901.8 2034.0,920.3 2037.1,939.2 2040.3,958.6 2043.4,978.6 2046.6,999.0"/>
<polyline stroke="#FA540A" points="210.1,945.2 235.5,930.1 261.0,915.1 286.5,900.0 311.9,884.9 337.4,869.8 362.9,854.8 388.3,839.7 413.8,824.6 439.3,809.5 464.8,794.5 490.2,779.4 515.7,764.3 541.2,749.2 566.6,734.2 592.1,719.1 617.6,704.0 643.0,689.0 668.5,673.9 694.0,658.8 719.5,643.8 744.9,628.7 770.4,613.6 795.9,598.6 821.3,583.5 846.8,568.4 872.3,553.4 897.7,538.3 923.2,523.3 948.7,508.2 974.2,493.2 999.6,478.2 1025.1,463.1 1050.6,448.1 1076.0,433.2 1101.5,418.2 1127.0,403.2 1152.4,388.3 1177.9,373.4 1203.4,358.6 1228.9,343.8 1232.1,341.9 1235.4,340.0 1238.7,338.1 1242.0,336.2 1245.2,334.3 1248.5,332.5 1251.8,330.6 1255.1,328.7 1258.4,326.8 1261.6,324.9 1264.9,323.0 1268.2,321.1 1271.5,319.2 1274.8,317.4 1278.0,315.5 1281.3,313.6 1284.6,311.7 1287.9,309.8 1291.2,308.0 1294.4,306.1 1297.7,304.2 1301.0,302.4 1304.3,300.5 1307.5,298.6 1310.8,296.8 1314.1,294.9 1317.4,293.1 1320.7,291.2 1323.9,289.3 1327.2,287.5 1330.5,285.6 1333.8,283.8 1337.1,282.0 1340.3,280.1 1343.6,278.3 1346.9,276.4 1350.2,274.6 1353.5,272.8 1356.7,270.9 1360.0,269.1 1363.3,267.3 1366.6,265.5 1369.9,263.7 1373.1,261.8 1376.4,260.0 1379.7,258.2 1383.0,256.4 1386.2,254.6 1389.5,252.8 1392.8,251.0 1396.1,249.3 1399.4,247.5 1402.6,245.7 1405.9,243.9 1409.2,242.1 1412.5,240.4 1415.8,238.6 1419.0,236.9 1422.3,235.1 1425.6,233.4 1428.9,231.6 1432.2,229.9 1435.4,228.1 1438.7,226.4 1442.0,224.7 1445.3,223.0 1448.5,221.3 1451.8,219.6 1455.1,217.9 1458.4,216.2 1461.7,214.5 1464.9,212.8 1468.2,211.1 1471.5,209.5 1474.8,207.8 1478.1,206.2 1481.3,204.5 1484.6,202.9 1487.9,201.3 1491.2,199.7 1494.5,198.0 1497.7,196.4 1501.0,194.8 1504.3,193.3 1507.6,191.7 1510.9,190.1 1514.1,188.6 1517.4,187.0 1520.7,185.5 1524.0,184.0 1527.2,182.4 1530.5,180.9 1533.8,179.4 1537.1,178.0 1540.4,176.5 1543.6,175.0 1546.9,173.6 1550.2,172.2 1553.5,170.7 1556.8,169.3 1560.0,167.9 1563.3,166.6 1566.6,165.2 1569.9,163.9 1573.2,162.5 1576.4,161.2 1579.7,159.9 1583.0,158.6 1586.3,157.4 1589.5,156.1 1592.8,154.9 1596.1,153.7 1599.4,152.5 1602.7,151.3 1605.9,150.1 1609.2,149.0 1612.5,147.9 1615.8,146.8 1619.1,145.7 1622.3,144.6 1625.6,143.6 1628.9,142.6 1632.2,141.6 1635.5,140.7 1638.7,139.7 1642.0,138.8 1645.3,138.0 1648.6,137.1 1651.9,136.3 1655.1,135.5 1658.4,134.7 1661.7,134.0 1665.0,133.3 1668.2,132.6 1671.5,132.0 1674.8,131.4 1678.1,130.8 1681.4,130.2 1684.6,129.7 1687.9,129.3 1691.2,128.8 1694.5,128.4 1697.8,128.1 1701.0,127.8 1704.3,127.5 1707.6,127.3 1710.9,127.1 1714.2,127.0 1717.4,126.9 1720.7,126.8 1724.0,126.8 1727.3,126.9 1730.5,127.0 1733.8,127.2 1737.1,127.4 1740.4,127.6 1743.7,127.9 1746.9,128.3 1750.2,128.8 1753.5,129.3 1756.8,129.8 1760.1,130.4 1763.3,131.1 1766.6,131.9 1769.9,132.7 1773.2,133.6 1776.5,134.6 1779.7,135.6 1783.0,136.7 1786.3,137.9 1789.6,139.2 1792.9,140.6 1796.1,142.0 1799.4,143.5 1802.7,145.2 1806.0,146.9 1809.2,148.7 1812.5,150.5 1815.8,152.5 1819.1,154.6 1822.4,156.8 1825.6,159.1 1828.9,161.5 1832.2,164.0 1835.5,166.7 1838.8,169.4 1842.0,172.3 1845.3,175.3 1848.6,178.4 1851.9,181.6 1855.2,185.0 1858.4,188.5 1861.7,192.1 1865.0,195.9 1868.3,199.8 1871.6,203.9 1874.8,208.1 1878.1,212.5 1881.4,217.1 1884.7,221.8 1887.9,226.7 1891.2,231.7 1894.5,237.0 1897.8,242.4 1901.1,248.0 1904.3,253.7 1907.6,259.7 1910.9,265.9 1914.2,272.3 1917.5,278.9 1920.7,285.7 1924.0,292.8 1927.3,300.0 1930.6,307.5 1933.9,315.3 1937.1,323.2 1940.4,331.5 1943.7,340.0 1947.0,348.7 1950.2,357.7 1953.5,367.0 1956.8,376.6 1960.1,386.5 1963.4,396.7 1966.6,407.1 1969.9,417.9 1973.2,429.0 1976.5,440.5 1979.8,452.3 1983.0,464.4 1986.3,476.9 1989.6,489.7 1992.9,502.9 1996.2,516.5 1999.4,530.5 2002.7,544.9 2006.0,559.7 2009.3,575.0 2012.6,590.6 2015.8,606.7 2019.1,623.3 2022.4,640.3 2025.7,657.8 2028.9,675.8 2032.2,694.3 2035.5,713.3 2038.8,732.9 2042.1,753.0 2045.3,773.6 2048.6,794.8 2051.9,816.6 2055.2,839.0 2058.5,862.0 2061.7,885.6 2065.0,909.8 2068.3,934.8 2071.6,960.4 2074.9,986.7 2078.1,1013.7"/>
</g>
<g fill="#FF7D25" stroke="none">
<polygon points="1291.2,110.7 1301.8,107.3 1331.0,200.0 1320.3,203.4"/>
<polygon points="1133.5,247.5 1143.9,243.5 1201.3,396.5 1190.8,400.4"/>
<polygon points="966.4,408.0 977.0,404.2 1045.7,590.2 1035.2,594.1"/>
<polygon points="727.2,551.2 737.8,547.8 798.5,741.4 787.8,744.8"/>
</g>
<g fill="#1873CC" stroke="none">
<polygon points="921.8,79.9 927.5,88.4 881.2,119.3 875.5,110.8"/><polygon points="891.7,131.4 845.9,136.7 868.3,96.5"/>
<polygon points="770.6,227.1 777.1,235.1 723.5,277.7 717.1,269.6"/><polygon points="735.0,288.8 689.8,297.9 708.8,255.9"/>
<polygon points="598.5,381.1 605.0,389.2 551.8,431.8 545.4,423.8"/><polygon points="563.3,442.9 518.2,452.2 537.0,410.2"/>
<polygon points="381.5,544.7 387.9,552.9 334.8,594.6 328.4,586.5"/><polygon points="346.1,605.8 300.9,614.6 320.2,572.8"/>
</g>
<g class="tk" fill="#202020" stroke="#202020" stroke-width="1.0">
<text transform="translate(209.60,1033.6) scale(0.975,1.028)" text-anchor="middle" letter-spacing="1.75">0</text>
<text transform="translate(492.60,1033.6) scale(0.975,1.028)" text-anchor="middle" letter-spacing="1.75">5</text>
<text transform="translate(775.60,1033.6) scale(0.975,1.028)" text-anchor="middle" letter-spacing="1.75">10</text>
<text transform="translate(1058.60,1033.6) scale(0.975,1.028)" text-anchor="middle" letter-spacing="1.75">15</text>
<text transform="translate(1341.60,1033.6) scale(0.975,1.028)" text-anchor="middle" letter-spacing="1.75">20</text>
<text transform="translate(1624.60,1033.6) scale(0.975,1.028)" text-anchor="middle" letter-spacing="1.75">25</text>
<text transform="translate(1907.60,1033.6) scale(0.975,1.028)" text-anchor="middle" letter-spacing="1.75">30</text>
<text transform="translate(2190.60,1033.6) scale(0.975,1.028)" text-anchor="middle" letter-spacing="1.75">35</text>
</g>
<g class="tk" fill="#0072BD" stroke="#0072BD" stroke-width="1.0">
<text transform="translate(186.01,968.3) scale(0.975,1.015)" text-anchor="end" letter-spacing="1.75">0</text>
<text transform="translate(186.01,775.0) scale(0.975,1.015)" text-anchor="end" letter-spacing="1.75">2</text>
<text transform="translate(186.01,581.8) scale(0.975,1.015)" text-anchor="end" letter-spacing="1.75">4</text>
<text transform="translate(186.01,388.5) scale(0.975,1.015)" text-anchor="end" letter-spacing="1.75">6</text>
<text transform="translate(186.01,195.2) scale(0.975,1.015)" text-anchor="end" letter-spacing="1.75">8</text>
</g>
<g class="tk" fill="#FA540A" stroke="#FA540A" stroke-width="1.0">
<text transform="translate(2213.20,968.9) scale(0.975,1.015)" text-anchor="start" letter-spacing="1.75">0</text>
<text transform="translate(2213.20,764.9) scale(0.975,1.015)" text-anchor="start" letter-spacing="1.75">50</text>
<text transform="translate(2213.20,560.9) scale(0.975,1.015)" text-anchor="start" letter-spacing="1.75">100</text>
<text transform="translate(2213.20,356.9) scale(0.975,1.015)" text-anchor="start" letter-spacing="1.75">150</text>
<text transform="translate(2213.20,152.9) scale(0.975,1.015)" text-anchor="start" letter-spacing="1.75">200</text>
</g>
<g class="lb">
<text><tspan x="960.96" y="113.40" font-size="70.2px" textLength="135.63" lengthAdjust="spacingAndGlyphs">1000</tspan><tspan> </tspan><tspan x="1113.43" font-size="71.0px" y="112.80" textLength="65.67" lengthAdjust="spacingAndGlyphs">W</tspan><tspan x="1179.90" font-size="84.0px" y="120.70">/</tspan><tspan x="1200.71" font-size="68.0px" y="112.80" textLength="59.08" lengthAdjust="spacingAndGlyphs">m</tspan><tspan x="1259.35" font-size="41.8px" y="96.40" textLength="22.15" lengthAdjust="spacingAndGlyphs">2</tspan></text>
<text><tspan x="835.06" y="257.00" font-size="70.2px" textLength="101.72" lengthAdjust="spacingAndGlyphs">800</tspan><tspan> </tspan><tspan x="953.63" font-size="71.0px" y="256.40" textLength="65.67" lengthAdjust="spacingAndGlyphs">W</tspan><tspan x="1020.10" font-size="84.0px" y="264.30">/</tspan><tspan x="1040.91" font-size="68.0px" y="256.40" textLength="59.08" lengthAdjust="spacingAndGlyphs">m</tspan><tspan x="1099.55" font-size="41.8px" y="240.00" textLength="22.15" lengthAdjust="spacingAndGlyphs">2</tspan></text>
<text><tspan x="658.56" y="410.70" font-size="70.2px" textLength="101.72" lengthAdjust="spacingAndGlyphs">600</tspan><tspan> </tspan><tspan x="777.13" font-size="71.0px" y="410.10" textLength="65.67" lengthAdjust="spacingAndGlyphs">W</tspan><tspan x="843.60" font-size="84.0px" y="418.00">/</tspan><tspan x="864.41" font-size="68.0px" y="410.10" textLength="59.08" lengthAdjust="spacingAndGlyphs">m</tspan><tspan x="923.05" font-size="41.8px" y="393.70" textLength="22.15" lengthAdjust="spacingAndGlyphs">2</tspan></text>
<text><tspan x="425.06" y="567.40" font-size="70.2px" textLength="101.72" lengthAdjust="spacingAndGlyphs">400</tspan><tspan> </tspan><tspan x="543.63" font-size="71.0px" y="566.80" textLength="65.67" lengthAdjust="spacingAndGlyphs">W</tspan><tspan x="610.10" font-size="84.0px" y="574.70">/</tspan><tspan x="630.91" font-size="68.0px" y="566.80" textLength="59.08" lengthAdjust="spacingAndGlyphs">m</tspan><tspan x="689.55" font-size="41.8px" y="550.40" textLength="22.15" lengthAdjust="spacingAndGlyphs">2</tspan></text>
</g>
<text class="ax" fill="#000"><tspan x="1111.37" font-size="67.7px" y="1129.80" font-style="italic" textLength="36.60" lengthAdjust="spacingAndGlyphs">V</tspan><tspan x="1142.12" font-size="48.0px" y="1142.70" font-style="italic" textLength="50.29" lengthAdjust="spacingAndGlyphs">pv</tspan><tspan> </tspan><tspan x="1214.98" font-size="67.7px" y="1129.80" textLength="25.93" lengthAdjust="spacingAndGlyphs">(</tspan><tspan x="1239.77" font-size="67.7px" y="1129.80" textLength="40.82" lengthAdjust="spacingAndGlyphs">V</tspan><tspan x="1279.39" font-size="67.7px" y="1129.80" textLength="25.93" lengthAdjust="spacingAndGlyphs">)</tspan></text>
<text class="ax" fill="#1873CC" transform="translate(60.7,577.7) rotate(-90)"><tspan x="0.23" font-size="67.7px" y="0.00" font-style="italic" textLength="19.28" lengthAdjust="spacingAndGlyphs">I</tspan><tspan x="24.79" font-size="48.0px" y="12.90" font-style="italic" textLength="49.84" lengthAdjust="spacingAndGlyphs">pv</tspan><tspan> </tspan><tspan x="96.68" font-size="67.7px" y="0.00" textLength="25.93" lengthAdjust="spacingAndGlyphs">(</tspan><tspan x="122.03" font-size="67.7px" y="0.00" textLength="42.34" lengthAdjust="spacingAndGlyphs">A</tspan><tspan x="162.19" font-size="67.7px" y="0.00" textLength="25.93" lengthAdjust="spacingAndGlyphs">)</tspan></text>
<text class="ax" fill="#E2590F" transform="translate(2419.6,574.0) rotate(-90)"><tspan x="0.34" font-size="67.7px" y="0.00" font-style="italic" textLength="38.46" lengthAdjust="spacingAndGlyphs">P</tspan><tspan x="31.15" font-size="48.0px" y="12.90" font-style="italic" textLength="50.74" lengthAdjust="spacingAndGlyphs">pv</tspan><tspan> </tspan><tspan x="104.28" font-size="67.7px" y="0.00" textLength="25.93" lengthAdjust="spacingAndGlyphs">(</tspan><tspan x="128.24" font-size="67.7px" y="0.00" textLength="62.36" lengthAdjust="spacingAndGlyphs">W</tspan><tspan x="188.79" font-size="67.7px" y="0.00" textLength="25.93" lengthAdjust="spacingAndGlyphs">)</tspan></text>
</svg>
</body>
</html>
